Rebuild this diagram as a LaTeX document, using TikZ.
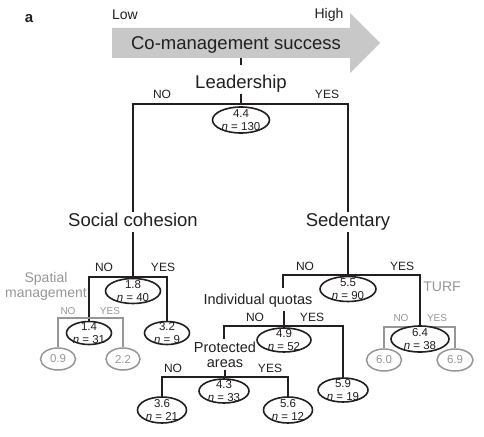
\documentclass[tikz,border=0pt]{standalone}
\usepackage{fontspec}
\setmainfont{Liberation Sans}
\usetikzlibrary{shapes.geometric}
\definecolor{ink}{RGB}{35,31,32}
\definecolor{gr}{RGB}{150,150,150}
\definecolor{arrowfill}{RGB}{200,200,200}
\begin{document}
\begin{tikzpicture}[x=1pt,y=-1pt,
  tree/.style={draw=ink, line width=2.7pt},
  sub/.style={draw=gr, line width=1.5pt},
  oval/.style n args={2}{ellipse, draw=ink, fill=white, line width=1.6pt, inner sep=0pt, minimum width=#1, minimum height=#2},
  goval/.style n args={2}{ellipse, draw=gr, fill=white, line width=1.5pt, inner sep=0pt, minimum width=#1, minimum height=#2},
  otext/.style={align=center, inner sep=0pt, text=ink, font=\fontsize{11.5}{13}\selectfont},
  gtext/.style={inner sep=0pt, text=gr, font=\fontsize{11.5}{12}\selectfont},
  big/.style={inner sep=1pt, anchor=base, text=ink, font=\fontsize{18.5}{20}\selectfont},
  mid/.style={inner sep=0pt, align=center, text=ink, font=\fontsize{14.5}{15}\selectfont},
  lab/.style={inner sep=0pt, text=ink, font=\fontsize{12}{12}\selectfont},
  glab/.style={inner sep=0pt, text=gr, font=\fontsize{10}{10}\selectfont},
  gmid/.style={inner sep=0pt, align=center, text=gr, font=\fontsize{14}{15}\selectfont}
]
\useasboundingbox (0,0) rectangle (484,436);

% panel letter and scale
\node[inner sep=0pt, text=ink, font=\fontsize{15}{15}\selectfont\bfseries] (pa) at (29,19) {a};
\node[inner sep=0pt, text=ink, font=\fontsize{14}{14}\selectfont] (low) at (125,15) {Low};
\node[inner sep=0pt, text=ink, font=\fontsize{14}{14}\selectfont] (high) at (329,15) {High};

% big arrow
\fill[arrowfill] (112,28) -- (350,28) -- (350,13) -- (380,43) -- (350,73) -- (350,58) -- (112,58) -- cycle;
\node[big] (cms) at (236,49.6) {Co-management success};
\coordinate (arrb) at (241,58);
\coordinate (tickb) at (241,65);
\draw[tree] (arrb) -- (tickb);

% Leadership
\node[big] (lead) at (241,88.5) {Leadership};
\coordinate (j1) at (241,104);
\draw[tree] (lead.south) -- (j1);
\node[big] (soc) at (133,226.5) {Social cohesion};
\node[big] (sed) at (348,226.5) {Sedentary};
\coordinate (socb) at (133,232);
\coordinate (sedb) at (348,232);
\draw[tree] (soc.north) |- (j1) -| (sed.north);
\node[lab] (no1) at (162,94) {NO};
\node[lab] (yes1) at (327,94) {YES};
\node[oval={57pt}{26pt}] (e44) at (241,120) {};
\node[otext] (t44) at (e44) {4.4\\\textit{n} = 130};

% Social cohesion subtree
\coordinate (j2) at (133,277);
\node[oval={45pt}{23pt}] (e32) at (167,333) {};
\node[otext] (t32) at (e32) {3.2\\\textit{n} = 9};
\coordinate (c14) at (89,322);
\draw[tree] (socb) -- (j2);
\draw[tree] (c14) |- (j2) -| (e32.north);
\node[lab] (no2) at (104,267) {NO};
\node[lab] (yes2) at (163,267) {YES};
\node[oval={55pt}{25pt}] (e18) at (133,291) {};
\node[otext] (t18) at (e18) {1.8\\\textit{n} = 40};

% Spatial management (grey)
\node[gmid] (spm) at (46,286) {Spatial\\management};
\coordinate (sj) at (89,318);
\node[goval={35pt}{22pt}] (g09) at (58,359) {};
\node[gtext] (tg09) at (g09) {0.9};
\node[goval={34pt}{22pt}] (g22) at (123,359) {};
\node[gtext] (tg22) at (g22) {2.2};
\draw[sub] (g09.north) |- (sj) -| (g22.north);
\node[glab] (gno1) at (68,311) {NO};
\node[glab] (gyes1) at (110,311) {YES};
\node[oval={45pt}{23pt}] (e14) at (89,333) {};
\node[otext] (t14) at (e14) {1.4\\\textit{n} = 31};

% Sedentary subtree
\coordinate (j3) at (348,275);
\coordinate (iqtop) at (283,288);
\coordinate (c64) at (420,327);
\draw[tree] (sedb) -- (j3);
\draw[tree] (iqtop) |- (j3) -| (c64);
\node[lab] (no3) at (305,266) {NO};
\node[lab] (yes3) at (402,266) {YES};
\node[oval={56pt}{25pt}] (e55) at (348,289) {};
\node[otext] (t55) at (e55) {5.5\\\textit{n} = 90};
\node[gmid] (turf) at (442,287) {TURF};

% TURF grey
\coordinate (tj) at (420,327);
\node[goval={35pt}{22pt}] (g60) at (384,360) {};
\node[gtext] (tg60) at (g60) {6.0};
\node[goval={36pt}{22pt}] (g69) at (455,360) {};
\node[gtext] (tg69) at (g69) {6.9};
\draw[sub] (g60.north) |- (tj) -| (g69.north);
\node[glab] (gno2) at (401,318) {NO};
\node[glab] (gyes2) at (437,318) {YES};
\node[oval={58pt}{26pt}] (e64) at (420,339) {};
\node[otext] (t64) at (e64) {6.4\\\textit{n} = 38};

% Individual quotas
\node[mid, anchor=base] (iq) at (258,304.5) {Individual quotas};
\coordinate (iqb) at (284,311);
\coordinate (j4) at (284,326);
\coordinate (patop) at (224,339);
\node[oval={50pt}{24pt}] (e59) at (343,390) {};
\node[otext] (t59) at (e59) {5.9\\\textit{n} = 19};
\draw[tree] (iqb) -- (j4);
\draw[tree] (patop) |- (j4) -| (e59.north);
\node[lab] (no4) at (255,317) {NO};
\node[lab] (yes4) at (312,317) {YES};
\node[oval={54pt}{24pt}] (e49) at (284,340) {};
\node[otext] (t49) at (e49) {4.9\\\textit{n} = 52};

% Protected areas
\node[mid] (pa2) at (225,355) {Protected\\areas};
\coordinate (pab) at (225,370);
\coordinate (j5) at (225,377);
\node[oval={49pt}{26pt}] (e36) at (162,410) {};
\node[otext] (t36) at (e36) {3.6\\\textit{n} = 21};
\node[oval={49pt}{26pt}] (e56) at (288,410) {};
\node[otext] (t56) at (e56) {5.6\\\textit{n} = 12};
\draw[tree] (pab) -- (j5);
\draw[tree] (e36.north) |- (j5) -| (e56.north);
\node[lab] (no5) at (173,368) {NO};
\node[lab] (yes5) at (270,368) {YES};
\node[oval={50pt}{24pt}] (e43) at (224,391) {};
\node[otext] (t43) at (e43) {4.3\\\textit{n} = 33};
\end{tikzpicture}
\end{document}
